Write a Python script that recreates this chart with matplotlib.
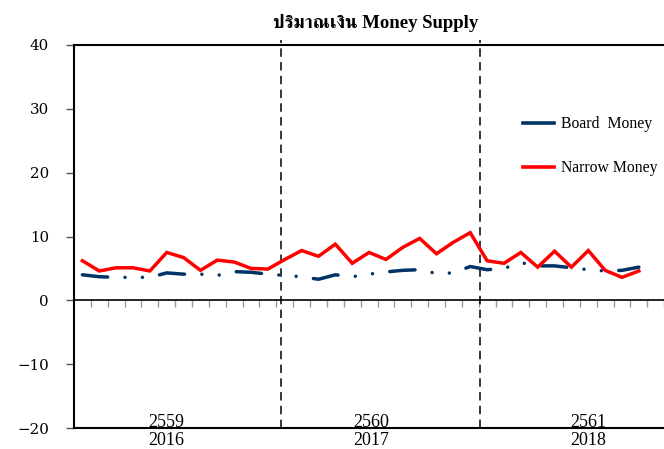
import numpy as np
import matplotlib
matplotlib.use("Agg")
import matplotlib.pyplot as plt
from matplotlib import font_manager, ft2font
from matplotlib.lines import Line2D

# === ข้อมูล (รายเดือน ม.ค. 2016 - ต.ค. 2018, % YoY) ===
board_money = [4.0, 3.7, 3.6, 3.6, 3.6, 4.3, 4.1, 4.1, 3.9, 4.5, 4.4, 4.1,
               3.9, 3.7, 3.3, 4.0, 3.7, 4.1, 4.45, 4.7, 4.8, 4.2, 4.3, 5.3,
               4.8, 5.0, 5.9, 5.4, 5.4, 5.1, 4.8, 4.6, 4.7, 5.2]
narrow_money = [6.2, 4.6, 5.1, 5.1, 4.6, 7.5, 6.7, 4.7, 6.3, 6.0, 5.0, 4.9,
                6.4, 7.8, 6.9, 8.8, 5.8, 7.5, 6.4, 8.3, 9.7, 7.3, 9.1, 10.6,
                6.2, 5.8, 7.5, 5.2, 7.7, 5.2, 7.8, 4.7, 3.6, 4.6]
years_be = ["2559", "2560", "2561"]
years_ce = ["2016", "2017", "2018"]
yticks = [-20, -10, 0, 10, 20, 30, 40]
n_slots = 36  # 3 ปี x 12 เดือน


def find_thai_font():
    # หา font ที่มีอักษรไทย (ถ้ามี)
    best = None
    for f in font_manager.fontManager.ttflist:
        try:
            cm = ft2font.FT2Font(f.fname).get_charmap()
        except Exception:
            continue
        if 0x0E1B in cm and 0x0E34 in cm:
            if "Serif" in f.name or f.name in ("Norasi", "Kinnari", "Laksaman"):
                return f.name
            best = best or f.name
    return best


thai = find_thai_font()
title_fams = ["Liberation Serif"] + ([thai] if thai else []) + ["DejaVu Sans"]

fig = plt.figure(figsize=(6.64, 4.49), dpi=100)
ax = fig.add_axes([74 / 664, 21 / 449, 607 / 664, 383 / 449])

x = np.arange(len(board_money))
ax.plot(x, board_money, color="#003366", lw=2.5, dash_capstyle="round",
        linestyle=(0, (7.3, 5.0, 0.01, 5.0, 0.01, 5.0)), zorder=3)
ax.plot(x, narrow_money, color="#FF0000", lw=2.5, solid_joinstyle="miter", zorder=4)

ax.set_xlim(-0.5, n_slots - 0.5)
ax.set_ylim(-20, 40)
ax.set_yticks(yticks)
ax.set_yticklabels([f"{v}".replace("-", "\u2212") for v in yticks],
                   family="DejaVu Serif", fontsize=10.8)
ax.tick_params(axis="y", direction="out", length=6, width=1, color="#555555", pad=12)

# แกน x อยู่ที่ 0
ax.spines["bottom"].set_position(("data", 0))
ax.spines["bottom"].set_linewidth(1.2)
ax.set_xticks(np.arange(0.5, n_slots - 0.5, 1))
ax.set_xticklabels([])
ax.tick_params(axis="x", direction="out", length=5, width=1, color="#999999")
for s in ("left", "top"):
    ax.spines[s].set_linewidth(1.5)
ax.spines["right"].set_visible(False)
ax.axhline(-20, color="black", lw=1.5, clip_on=False, zorder=5)

# เส้นแบ่งปี
for xv in (11.75, 23.55):
    ax.plot([xv, xv], [-20, 40.8], color="black", lw=1.1, linestyle=(0, (5.5, 3.5)),
            clip_on=False, zorder=2)

for xp, be, ce in zip((5.0, 17.1, 30.0), years_be, years_ce):
    ax.annotate(be, xy=(xp, -20), xytext=(0, 1), textcoords="offset points",
                ha="center", va="baseline", family="Liberation Serif", fontsize=13,
                annotation_clip=False)
    ax.annotate(ce, xy=(xp, -20), xytext=(0, -12.3), textcoords="offset points",
                ha="center", va="baseline", family="Liberation Serif", fontsize=13,
                annotation_clip=False)

handles = [Line2D([], [], color="#003366", lw=2.6),
           Line2D([], [], color="#FF0000", lw=2.6)]
fig.legend(handles, ["Board  Money", "Narrow Money"], loc="upper left",
           bbox_to_anchor=(523 / 664, 1 - 116 / 449), frameon=False,
           prop={"family": "Liberation Serif", "size": 11.3},
           handlelength=1.95, handletextpad=0.45, labelspacing=1.8,
           borderpad=0, borderaxespad=0)

fig.text(376 / 664, 1 - 28 / 449, "ปริมาณเงิน Money Supply", ha="center", va="baseline",
         fontsize=13.5, fontweight="bold", family=title_fams)

fig.savefig("out.png", dpi=100)
